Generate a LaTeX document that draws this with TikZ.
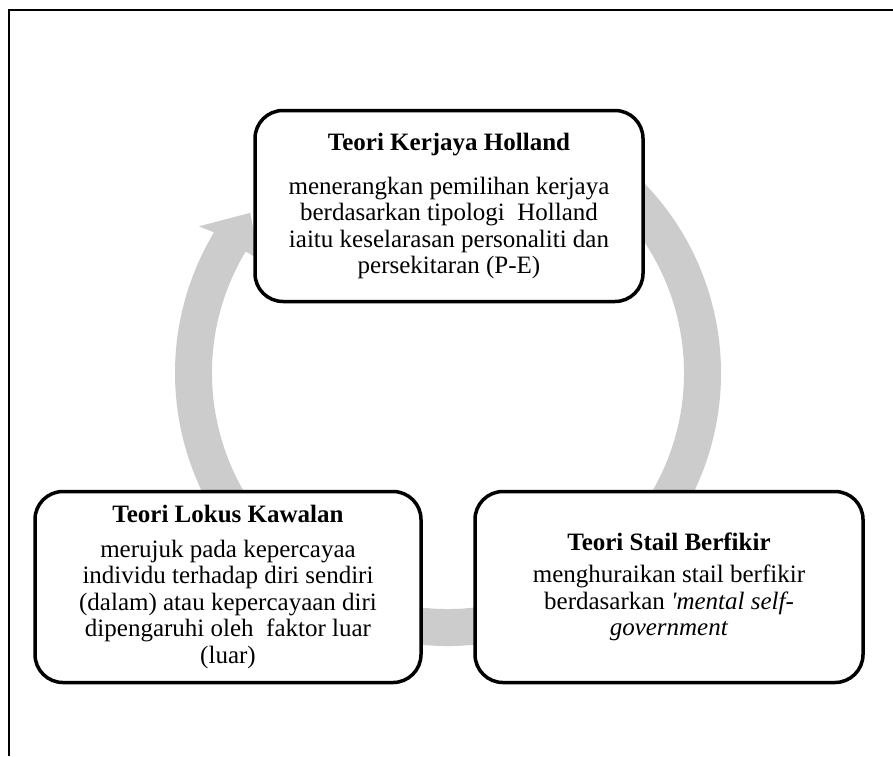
\documentclass[tikz,border=0pt]{standalone}
\usepackage{fontspec}
\setmainfont{Liberation Serif}
\usetikzlibrary{calc}
\definecolor{ringgray}{RGB}{204,204,204}
\begin{document}
\begin{tikzpicture}[x=1pt,y=1pt,
  cyclebox/.style={draw=black, line width=3.5pt, rounded corners=28pt, fill=white,
    align=center, minimum width=388pt, minimum height=191pt, inner sep=0pt,
    font=\fontsize{25}{26.5}\selectfont},
  frameline/.style={line width=2pt}
  ]
\useasboundingbox (0,0) rectangle (893,-756);
\fill[white] (0,0) rectangle (893,-756);
\draw[frameline] (893,-10) -- (9,-10) -- (9,-756);
\coordinate (C) at (448,-373);
\fill[ringgray] ($(C)+(50:273)$) arc[start angle=50, end angle=-211, radius=273pt]
  -- ($(C)+(149.5:289)$) -- ($(C)+(141:254.5)$) -- ($(C)+(149:220)$)
  -- ($(C)+(149:236)$) arc[start angle=149, end angle=410, radius=236pt] -- cycle;
\node[cyclebox] (holland) at (449,-206) {\textbf{Teori Kerjaya Holland}\\[17pt]
  menerangkan pemilihan kerjaya\\ berdasarkan tipologi~ Holland\\
  iaitu keselarasan personaliti dan\\ persekitaran (P-E)};
\node[cyclebox, minimum width=386pt] (lokus) at (228,-587) {\textbf{Teori Lokus Kawalan}\\[8pt]
  merujuk pada kepercayaa\\ individu terhadap diri sendiri\\
  (dalam) atau kepercayaan diri\\ dipengaruhi oleh~ faktor luar\\ (luar)};
\node[cyclebox] (stail) at (669,-587) {\textbf{Teori Stail Berfikir}\\[6pt]
  menghuraikan stail berfikir\\ berdasarkan \textit{\textquotesingle mental self-}\\
  \textit{government}};
\end{tikzpicture}
\end{document}
